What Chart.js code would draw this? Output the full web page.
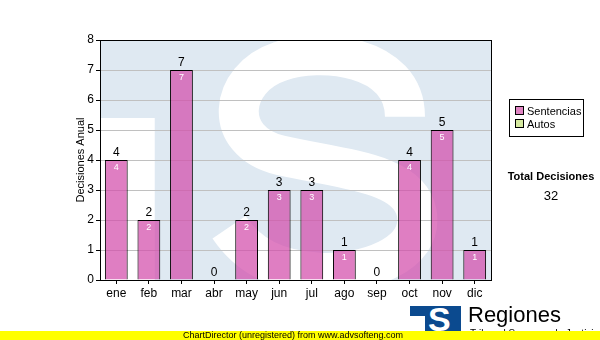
<!DOCTYPE html>
<html>
<head>
<meta charset="utf-8">
<script src="https://cdn.jsdelivr.net/npm/chart.js@4.4.1/dist/chart.umd.min.js"></script>
<style>
  html, body { margin: 0; padding: 0; background: #fff; }
  #wrap { position: relative; width: 600px; height: 340px; overflow: hidden; font-family: 'Liberation Sans', Arial, sans-serif; }
  #chart { position: absolute; left: 0; top: 0; }
  #leyenda { position: absolute; left: 509px; top: 99px; width: 73px; height: 36px; border: 1px solid #000; font-size: 11px; color: #000; }
  .item { position: absolute; left: 5px; height: 12px; line-height: 12px; }
  .sw { display: inline-block; width: 7px; height: 7px; border: 1px solid #000; margin-right: 3px; vertical-align: 0; }
  #total { position: absolute; left: 502px; top: 170px; width: 98px; text-align: center; font-size: 11px; font-weight: bold; }
  #totalNum { position: absolute; left: 502px; top: 188px; width: 98px; text-align: center; font-size: 13px; }
  #logo { position: absolute; left: 410px; top: 306px; width: 51px; height: 26px; background: #0b4a8f; overflow: hidden; }
  #logo .notch { position: absolute; left: 0; top: 10px; width: 15px; height: 20px; background: #fff; }
  #logo .s { position: absolute; left: 18px; top: -6px; color: #fff; font: bold 34px 'Liberation Sans', Arial, sans-serif; }
  #regiones { position: absolute; left: 468px; top: 302px; font-size: 22px; color: #000; }
  #tribunal { position: absolute; left: 470px; top: 328px; font-size: 10px; color: #000; }
  #banda { position: absolute; left: 0; top: 331px; width: 600px; height: 9px; background: #ffff00; font-size: 9px; line-height: 9px; text-align: center; color: #000; }
  #banda span { position: relative; left: -7px; }
</style>
</head>
<body>
<div id="wrap">
  <canvas id="chart" width="600" height="340"></canvas>
  <div id="leyenda">
    <div class="item" style="top:5px"><span class="sw" id="swSent"></span>Sentencias</div>
    <div class="item" style="top:18px"><span class="sw" id="swAutos"></span>Autos</div>
  </div>
  <div id="total">Total Decisiones</div>
  <div id="totalNum"></div>
  <div id="logo"><div class="notch"></div><div class="s">S</div></div>
  <div id="regiones">Regiones</div>
  <div id="tribunal">Tribunal Supremo de Justicia</div>
  <div id="banda"><span>ChartDirector (unregistered) from www.advsofteng.com</span></div>
</div>
<script>
'use strict';

// datos
const meses = ['ene', 'feb', 'mar', 'abr', 'may', 'jun', 'jul', 'ago', 'sep', 'oct', 'nov', 'dic'];
const sentencias = [4, 2, 7, 0, 2, 3, 3, 1, 0, 4, 5, 1];
const ticksY = [0, 1, 2, 3, 4, 5, 6, 7, 8];

const colorSentencias = 'rgba(210, 76, 170, 0.72)';
const colorAutos = '#d6eaa0';

document.getElementById('swSent').style.background = '#e084c3';
document.getElementById('swAutos').style.background = colorAutos;
document.getElementById('totalNum').textContent = sentencias.reduce(function (a, b) { return a + b; }, 0);

Chart.defaults.font.family = "'Liberation Sans', Arial, sans-serif";
Chart.defaults.color = '#000';

// marca de agua del fondo (logo TS)
const fondoPlugin = {
  id: 'fondo',
  beforeDraw: function (chart) {
    const a = chart.chartArea;
    const ctx = chart.ctx;
    const w = a.right - a.left;
    const h = a.bottom - a.top;
    function px(fx) { return a.left + fx * w; }
    function py(fy) { return a.top + fy * h; }
    ctx.save();
    ctx.beginPath();
    ctx.rect(a.left, a.top, w, h);
    ctx.clip();
    ctx.fillStyle = '#dfe9f2';
    ctx.fillRect(a.left, a.top, w, h);
    ctx.fillStyle = '#ffffff';
    ctx.fillRect(a.left, py(0.325), px(0.14) - a.left, h);
    ctx.strokeStyle = '#ffffff';
    ctx.lineWidth = 40;
    ctx.beginPath();
    ctx.moveTo(px(0.78), py(0.32));
    ctx.bezierCurveTo(px(0.78), py(0.06), px(0.56), py(0.03), px(0.46), py(0.09));
    ctx.bezierCurveTo(px(0.33), py(0.16), px(0.31), py(0.42), px(0.46), py(0.48));
    ctx.bezierCurveTo(px(0.62), py(0.54), px(0.79), py(0.55), px(0.81), py(0.72));
    ctx.bezierCurveTo(px(0.83), py(0.90), px(0.67), py(0.98), px(0.56), py(0.97));
    ctx.bezierCurveTo(px(0.45), py(0.96), px(0.38), py(0.90), px(0.33), py(0.78));
    ctx.stroke();
    ctx.restore();
  },
  afterDraw: function (chart) {
    const a = chart.chartArea;
    const ctx = chart.ctx;
    ctx.save();
    ctx.strokeStyle = '#000';
    ctx.lineWidth = 1;
    ctx.strokeRect(a.left + 0.5, a.top + 0.5, a.right - a.left, a.bottom - a.top);
    ctx.restore();
  }
};

// etiquetas de valor (arriba en negro, dentro en blanco)
const etiquetasPlugin = {
  id: 'etiquetas',
  afterDatasetsDraw: function (chart) {
    const ctx = chart.ctx;
    const meta = chart.getDatasetMeta(0);
    ctx.save();
    ctx.textAlign = 'center';
    meta.data.forEach(function (bar, i) {
      const v = sentencias[i];
      ctx.fillStyle = '#000';
      ctx.font = "12px 'Liberation Sans', Arial, sans-serif";
      ctx.textBaseline = 'bottom';
      ctx.fillText(String(v), bar.x, bar.y - 1);
      if (v > 0) {
        ctx.fillStyle = '#fff';
        ctx.font = "9px 'Liberation Sans', Arial, sans-serif";
        ctx.textBaseline = 'top';
        ctx.fillText(String(v), bar.x, bar.y + 3);
      }
    });
    ctx.restore();
  }
};

new Chart(document.getElementById('chart').getContext('2d'), {
  type: 'bar',
  data: {
    labels: meses,
    datasets: [{
      label: 'Sentencias',
      data: sentencias,
      backgroundColor: colorSentencias,
      borderColor: '#000',
      borderWidth: 1,
      barPercentage: 0.7,
      categoryPercentage: 1
    }]
  },
  plugins: [fondoPlugin, etiquetasPlugin],
  options: {
    responsive: false,
    devicePixelRatio: 1,
    animation: false,
    layout: { padding: { left: 70, top: 40, right: 109, bottom: 30 } },
    plugins: {
      legend: { display: false },
      tooltip: { enabled: false }
    },
    scales: {
      x: {
        afterFit: function (s) { s.height = 30; },
        grid: { display: true, drawOnChartArea: false, offset: false, tickLength: 4, tickColor: '#000' },
        border: { color: '#000' },
        ticks: { font: { size: 12 }, padding: 2, color: '#000' }
      },
      y: {
        min: 0,
        max: 8,
        afterFit: function (s) { s.width = 30; },
        afterBuildTicks: function (s) { s.ticks = ticksY.map(function (v) { return { value: v }; }); },
        grid: { color: '#c0c0c0', tickLength: 4, tickColor: '#000' },
        border: { color: '#000' },
        ticks: { font: { size: 12 }, padding: 2, color: '#000' },
        title: { display: true, text: 'Decisiones Anual', font: { size: 11 }, padding: 4, color: '#000' }
      }
    }
  }
});
</script>
</body>
</html>
